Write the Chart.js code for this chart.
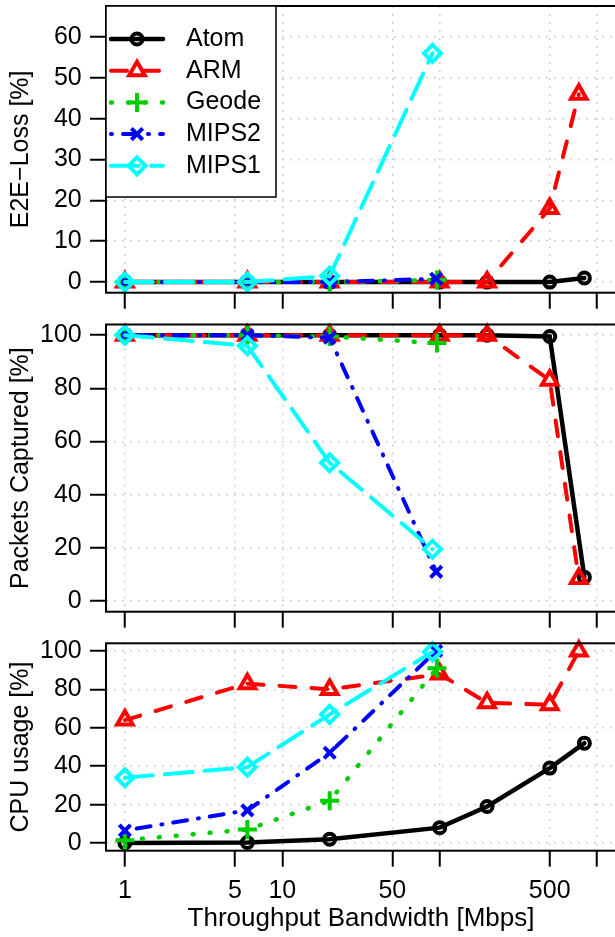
<!DOCTYPE html>
<html lang="en">
<head>
<meta charset="UTF-8">
<title>Throughput Bandwidth</title>
<style>
  html, body { margin: 0; padding: 0; background: #fff; }
  #wrap { position: relative; width: 615px; height: 937px; overflow: hidden; }
  canvas { position: absolute; left: 0; }
</style>
</head>
<body>
<div id="wrap">
  <canvas id="loss" width="620" height="310" style="top:0px"></canvas>
  <canvas id="cap" width="620" height="320" style="top:310px"></canvas>
  <canvas id="cpu" width="620" height="307" style="top:630px"></canvas>
</div>
<script src="https://cdn.jsdelivr.net/npm/chart.js@4.4.0/dist/chart.umd.min.js"></script>
<script>
const names = ['Atom', 'ARM', 'Geode', 'MIPS2', 'MIPS1'];

// bandwidth actually reached per platform [Mbps]
const bwAtom  = [1, 6, 20, 100, 200, 500, 830];
const bwArm   = [1, 6, 20, 100, 200, 500, 765];
const bwGeode = [1, 6, 20, 96];
const bwMips2 = [1, 6, 20, 95];
const bwMips1 = [1, 6, 20, 90];

// E2E loss [%]
const lossAtom  = [0, 0, 0, 0, 0, 0, 1];
const lossArm   = [0, 0, 0, 0, 0, 18, 46];
const lossGeode = [0, 0, 0, 0.5];
const lossMips2 = [0, 0, 0, 0.8];
const lossMips1 = [0, 0, 1.5, 56];

// packets captured [%]
const capAtom  = [100, 100, 100, 100, 100, 99.5, 9];
const capArm   = [100, 100, 100, 100, 100, 83, 8.5];
const capGeode = [100, 100, 99.5, 97];
const capMips2 = [100, 100, 99, 11];
const capMips1 = [100, 96, 52, 19.5];

// CPU usage [%]
const cpuAtom  = [0, 0.3, 2, 8, 19, 39, 52];
const cpuArm   = [64, 83, 80, 88, 73, 72, 100];
const cpuGeode = [1.5, 7, 22, 91];
const cpuMips2 = [6.5, 17, 47, 100];
const cpuMips1 = [34, 39.5, 67, 99.5];

const xTicks = [1, 5, 10, 50, 100, 500, 1000];
const xTickLabels = ['1', '5', '10', '50', '', '500', ''];
const lossTicks = [0, 10, 20, 30, 40, 50, 60];
const pctTicks = [0, 20, 40, 60, 80, 100];

const FONT = "'Liberation Sans', Arial, sans-serif";
const font = { family: FONT, size: 25 };
const titleFont = { family: FONT, size: 26 };

// R-like line types
const styles = [
  { color: '#000000', dash: [],             width: 4.5, point: 'circle',   r: 5.5 },
  { color: '#ff0000', dash: [16, 16],       width: 4,   point: 'triangle', r: 9 },
  { color: '#00cd00', dash: [1, 16],        width: 4.5, point: 'cross',    r: 9.5 },
  { color: '#0000ff', dash: [1, 11, 14, 11], width: 4,  point: 'crossRot', r: 8 },
  { color: '#00ffff', dash: [28, 12],       width: 4,   point: 'rectRot',  r: 8.5 }
];

function series(xs, ys) {
  return xs.map((x, i) => ({ x: x, y: ys[i] }));
}

function makeSets(list) {
  return list.map((d, i) => ({
    label: names[i],
    data: series(d[0], d[1]),
    borderColor: styles[i].color,
    borderWidth: styles[i].width,
    borderDash: styles[i].dash,
    borderCapStyle: 'round',
    pointStyle: styles[i].point,
    pointRadius: styles[i].r,
    pointBorderWidth: 4,
    pointBorderColor: styles[i].color,
    pointBackgroundColor: 'rgba(0,0,0,0)',
    tension: 0,
    fill: false,
    clip: 6,
    order: list.length - 1 - i
  }));
}

const boxPlugin = {
  id: 'box',
  afterDraw(chart) {
    const a = chart.chartArea, ctx = chart.ctx;
    ctx.save();
    ctx.strokeStyle = '#000';
    ctx.lineWidth = 2;
    ctx.strokeRect(a.left, a.top, a.right - a.left, a.bottom - a.top);
    ctx.restore();
  }
};

const legendPlugin = {
  id: 'rlegend',
  afterDraw(chart) {
    const ctx = chart.ctx, a = chart.chartArea;
    const x0 = a.left, y0 = a.top, w = 170, h = 191;
    ctx.save();
    ctx.fillStyle = '#fff';
    ctx.fillRect(x0, y0, w, h);
    ctx.strokeStyle = '#000';
    ctx.lineWidth = 1.5;
    ctx.strokeRect(x0, y0, w, h);
    chart.data.datasets.forEach((ds, i) => {
      const y = y0 + 33 + i * 31.7;
      ctx.beginPath();
      ctx.setLineDash(ds.borderDash);
      ctx.lineCap = 'round';
      ctx.lineWidth = ds.borderWidth;
      ctx.strokeStyle = ds.borderColor;
      ctx.moveTo(x0 + 5, y);
      ctx.lineTo(x0 + 57, y);
      ctx.stroke();
      ctx.setLineDash([]);
      ctx.lineCap = 'butt';
      ctx.fillStyle = 'rgba(0,0,0,0)';
      ctx.lineWidth = ds.pointBorderWidth;
      Chart.helpers.drawPoint(ctx, {
        pointStyle: ds.pointStyle, radius: ds.pointRadius,
        borderWidth: ds.pointBorderWidth, rotation: 0
      }, x0 + 31, y);
      ctx.fillStyle = '#000';
      ctx.font = '25px ' + FONT;
      ctx.textBaseline = 'middle';
      ctx.textAlign = 'left';
      ctx.fillText(ds.label, x0 + 80, y);
    });
    ctx.restore();
  }
};

const gridOpts = {
  color: '#d0d0d0', lineWidth: 1.5,
  drawTicks: true, tickLength: 16, tickColor: '#000', tickWidth: 2, tickBorderDash: []
};
const borderOpts = { display: false, dash: [2, 6] };

function makeChart(id, cfg) {
  return new Chart(document.getElementById(id), {
    type: 'line',
    data: { datasets: cfg.sets },
    options: {
      responsive: false,
      animation: false,
      devicePixelRatio: 1,
      layout: { autoPadding: false, padding: { top: cfg.top, right: 4, left: 0, bottom: 0 } },
      plugins: { legend: { display: false }, tooltip: { enabled: false } },
      scales: {
        x: {
          type: 'logarithmic',
          min: Math.pow(10, -0.12),
          max: Math.pow(10, 3.12),
          bounds: 'data',
          afterBuildTicks: s => { s.ticks = xTicks.map(v => ({ value: v })); },
          afterFit: s => { s.height = cfg.xHeight; s.paddingLeft = 0; s.paddingRight = 0; },
          grid: gridOpts,
          border: borderOpts,
          ticks: {
            display: cfg.xLabels, autoSkip: false, maxRotation: 0, padding: 9,
            font: font, color: '#000',
            callback: v => xTickLabels[xTicks.indexOf(v)]
          },
          title: {
            display: cfg.xLabels, text: 'Throughput Bandwidth [Mbps]',
            font: titleFont, color: '#000', padding: { top: 0, bottom: 2.1 }
          }
        },
        y: {
          type: 'linear',
          min: cfg.yMin,
          max: cfg.yMax,
          afterBuildTicks: s => { s.ticks = cfg.yTicks.map(v => ({ value: v })); },
          afterFit: s => { s.width = 106; s.paddingTop = 0; s.paddingBottom = 0; },
          grid: gridOpts,
          border: borderOpts,
          ticks: { padding: 8.3, font: font, color: '#000', callback: v => String(v) },
          title: { display: true, text: cfg.yTitle, font: font, color: '#000', padding: { top: 6, bottom: 0 } }
        }
      }
    },
    plugins: cfg.legend ? [boxPlugin, legendPlugin] : [boxPlugin]
  });
}

makeChart('loss', {
  sets: makeSets([[bwAtom, lossAtom], [bwArm, lossArm], [bwGeode, lossGeode], [bwMips2, lossMips2], [bwMips1, lossMips1]]),
  top: 6, xHeight: 17.3, xLabels: false,
  yMin: -2.6, yMax: 67.6, yTicks: lossTicks, yTitle: 'E2E\u2212Loss [%]', legend: true
});

makeChart('cap', {
  sets: makeSets([[bwAtom, capAtom], [bwArm, capArm], [bwGeode, capGeode], [bwMips2, capMips2], [bwMips1, capMips1]]),
  top: 14.5, xHeight: 18.3, xLabels: false,
  yMin: -4, yMax: 104, yTicks: pctTicks, yTitle: 'Packets Captured [%]', legend: false
});

makeChart('cpu', {
  sets: makeSets([[bwAtom, cpuAtom], [bwArm, cpuArm], [bwGeode, cpuGeode], [bwMips2, cpuMips2], [bwMips1, cpuMips1]]),
  top: 13.3, xHeight: 86.3, xLabels: true,
  yMin: -4, yMax: 104, yTicks: pctTicks, yTitle: 'CPU usage [%]', legend: false
});
</script>
</body>
</html>
